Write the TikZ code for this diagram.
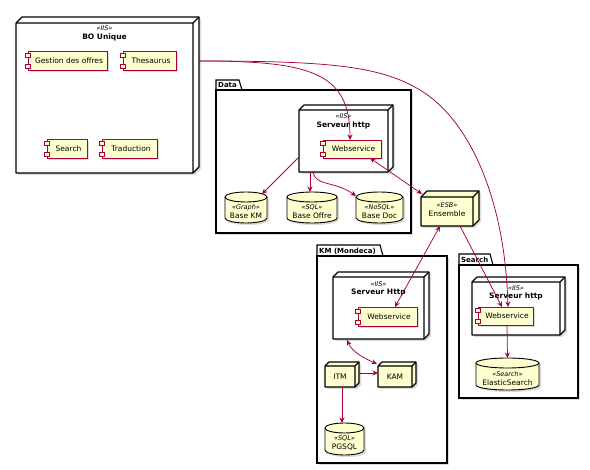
\documentclass[tikz,border=0pt]{standalone}
\usepackage{fontspec}
\setmainfont{DejaVu Sans}
\usetikzlibrary{arrows.meta,calc}
\definecolor{umlred}{HTML}{A80036}
\definecolor{umlfill}{HTML}{FEFECE}
\definecolor{umlshadow}{HTML}{9A9A9A}
\tikzset{
  lbl/.style={font=\fontsize{7.5}{9}\selectfont, inner sep=0pt, align=center},
  stereolbl/.style={font=\fontsize{6.5}{8}\selectfont\itshape, inner sep=0pt},
  titlelbl/.style={font=\fontsize{7.5}{9}\selectfont\bfseries, inner sep=0pt},
  pkglbl/.style={font=\fontsize{7}{8}\selectfont\bfseries, inner sep=0pt, anchor=west},
  framebox/.style={inner sep=0pt, outer sep=0pt, anchor=north west},
  nodeline/.style={draw=black, line width=1.1pt, line join=round},
  pkgline/.style={draw=black, line width=1.1pt},
  dbline/.style={draw=black, line width=0.9pt, fill=umlfill},
  compline/.style={draw=umlred, fill=umlfill, line width=0.8pt},
  shadowfill/.style={fill=umlshadow, opacity=0.35},
  umlarrow/.tip={Stealth[length=5.5pt,width=5pt,inset=1.8pt]},
  link/.style={draw=umlred, line width=0.75pt, -umlarrow},
  dlink/.style={draw=umlred, line width=0.75pt, umlarrow-umlarrow},
}
% 3D node: name, x1, y1, x2, y2 (front face), depth, fill
\newcommand\threedbox[7]{%
  \fill[shadowfill] ({#2+2},{#3+2}) -- ({#2+#6+2},{#3-#6+2}) -- ({#4+#6+2},{#3-#6+2}) -- ({#4+#6+2},{#5-#6+2}) -- ({#4+2},{#5+2}) -- ({#2+2},{#5+2}) -- cycle;
  \filldraw[nodeline, fill=#7] (#2,#3) -- ({#2+#6},{#3-#6}) -- ({#4+#6},{#3-#6}) -- ({#4+#6},{#5-#6}) -- (#4,#5) -- (#2,#5) -- cycle;
  \draw[nodeline] (#2,#3) -- (#4,#3) -- ({#4+#6},{#3-#6}) (#4,#3) -- (#4,#5);
  \pgfmathsetmacro\boxw{#4-#2}\pgfmathsetmacro\boxh{#5-#3}%
  \node[framebox, minimum width=\boxw pt, minimum height=\boxh pt] (#1) at (#2,#3) {};
}
% component: name, x1, y1, x2, y2, text
\newcommand\umlcomp[6]{%
  \fill[shadowfill] ({#2+2},{#3+2}) rectangle ({#4+2},{#5+2});
  \pgfmathsetmacro\boxw{#4-#2}\pgfmathsetmacro\boxh{#5-#3}%
  \node[framebox, compline, minimum width=\boxw pt, minimum height=\boxh pt] (#1) at (#2,#3) {};
  \filldraw[compline] ($(#1.west)+(-2.5,-7.5)$) rectangle ++(5,4);
  \filldraw[compline] ($(#1.west)+(-2.5,3.5)$) rectangle ++(5,4);
  \node[lbl] (#1-t) at ($(#1.center)+(1.5,0)$) {#6};
}
% database: name, x1, y1, x2, y2, stereotype, title
\newcommand\umldb[7]{%
  \pgfmathsetmacro\radx{(#4-#2)/2}%
  \fill[shadowfill] ({#2+2},{#3+7}) -- ({#2+2},{#5-3}) arc[start angle=180,end angle=360,x radius=\radx pt,y radius=5pt] -- ({#4+2},{#3+7}) arc[start angle=0,end angle=180,x radius=\radx pt,y radius=5pt] -- cycle;
  \filldraw[dbline] (#2,{#3+5}) -- (#2,{#5-5}) arc[start angle=180,end angle=360,x radius=\radx pt,y radius=5pt] -- (#4,{#3+5}) arc[start angle=0,end angle=180,x radius=\radx pt,y radius=5pt] -- cycle;
  \draw[dbline, fill=none] (#2,{#3+5}) arc[start angle=180,end angle=360,x radius=\radx pt,y radius=5pt];
  \pgfmathsetmacro\boxw{#4-#2}\pgfmathsetmacro\boxh{#5-#3}%
  \node[framebox, minimum width=\boxw pt, minimum height=\boxh pt] (#1) at (#2,#3) {};
  \node[lbl] (#1-t) at ($(#1.center)+(0,4.5)$) {{\fontsize{6.5}{8}\selectfont\itshape «#6»}\\#7};
}
% package: name, x1, ytab, xtab, ybox, x2, y2, label
\newcommand\umlpkg[8]{%
  \fill[shadowfill] ({#2+2},{#5+2}) rectangle ({#6+2},{#7+2});
  \filldraw[pkgline, fill=white] (#2,#5) -- (#2,#3) -- ({#4-3},#3) -- (#4,#5) -- cycle;
  \filldraw[pkgline, fill=white] (#2,#5) rectangle (#6,#7);
  \pgfmathsetmacro\boxw{#6-#2}\pgfmathsetmacro\boxh{#7-#5}%
  \node[framebox, minimum width=\boxw pt, minimum height=\boxh pt] (#1) at (#2,#5) {};
  \node[pkglbl] (#1-t) at ({#2+2},{(#3+#5)/2+0.5}) {#8};
}
\begin{document}
\begin{tikzpicture}[x=1pt, y=-1pt]
\useasboundingbox[fill=white] (0,0) rectangle (590,470);

% ---- BO Unique
\threedbox{bo}{16}{23}{193}{173}{6}{white}
\node[stereolbl] (bo-s) at ($(bo.north)+(0,5.5)$) {«IIS»};
\node[titlelbl] (bo-t) at ($(bo.north)+(0,14)$) {BO Unique};
\umlcomp{gest}{28}{51}{107}{70}{Gestion des offres}
\umlcomp{thes}{123}{51}{176}{70}{Thesaurus}
\umlcomp{bosearch}{47}{139}{87}{158}{Search}
\umlcomp{trad}{102}{139}{157}{158}{Traduction}

% ---- Data
\umlpkg{data}{216}{80}{242}{90}{411}{233}{Data}
\threedbox{srv1}{299}{110}{388}{172}{5}{white}
\node[stereolbl] (srv1-s) at ($(srv1.north)+(0,6.5)$) {«IIS»};
\node[titlelbl] (srv1-t) at ($(srv1.north)+(0,15)$) {Serveur http};
\umlcomp{ws1}{323}{140}{381}{158}{Webservice}
\umldb{bkm}{225}{192}{267}{223}{Graph}{Base KM}
\umldb{boff}{287}{192}{337}{223}{SQL}{Base Offre}
\umldb{bdoc}{356}{192}{403}{223}{NoSQL}{Base Doc}

% ---- Ensemble
\threedbox{ens}{421}{197}{473}{226}{6}{umlfill}
\node[lbl] (ens-t) at ($(ens.center)+(0,-1.5)$) {{\fontsize{6.5}{8}\selectfont\itshape «ESB»}\\Ensemble};

% ---- KM (Mondeca)
\umlpkg{km}{317}{245}{383}{256}{447}{463}{KM (Mondeca)}
\threedbox{srv2}{333}{277}{424}{339}{5}{white}
\node[stereolbl] (srv2-s) at ($(srv2.north)+(0,7)$) {«IIS»};
\node[titlelbl] (srv2-t) at ($(srv2.north)+(0,15.5)$) {Serveur Http};
\umlcomp{ws2}{358}{307}{417}{326}{Webservice}
\threedbox{itm}{325}{366}{355}{387}{4}{umlfill}
\node[lbl] (itm-t) at (itm.center) {ITM};
\threedbox{kam}{378}{366}{412}{387}{4}{umlfill}
\node[lbl] (kam-t) at (kam.center) {KAM};
\umldb{pg}{325}{423}{364}{455}{SQL}{PGSQL}

% ---- Search
\umlpkg{srchpkg}{459}{254}{493}{265}{578}{398}{Search}
\threedbox{srv3}{472}{282}{560}{335}{5}{white}
\node[stereolbl] (srv3-s) at ($(srv3.north)+(0,6)$) {«IIS»};
\node[titlelbl] (srv3-t) at ($(srv3.north)+(0,14.5)$) {Serveur http};
\umlcomp{ws3}{478}{307}{533}{325}{Webservice}
\umldb{es}{476}{358}{539}{390}{Search}{ElasticSearch}

% ---- connectors
\coordinate (bo-out) at ($(bo.north east)+(6,38)$);
\draw[link] (bo-out) .. controls (310,61) and (350,72) .. ($(ws1.north)+(-2,0)$);
\draw[link] (bo-out) .. controls (330,61) and (380,66) .. (420,90) .. controls (470,120) and (505,200) .. ($(ws3.north)+(2.5,0)$);
\draw[link] ($(srv1.south west)+(0,-15)$) -- ($(bkm.north)+(16,2)$);
\draw[link] ($(srv1.south west)+(11,0)$) -- ($(boff.north)+(-2,0)$);
\draw[link] ($(srv1.south west)+(14,0)$) .. controls (315,186) and (335,181) .. ($(bdoc.north west)+(0,4)$);
\draw[dlink] ($(ws1.south)+(18,0)$) -- ($(ens.north west)+(1,-3)$);
\draw[dlink] ($(ens.south west)+(19,0)$) -- ($(ws2.north)+(7.5,0)$);
\draw[link] ($(ens.south west)+(39,0)$) -- ($(ws3.north)+(-3.5,0)$);
\draw[dlink] ($(srv2.south west)+(14,1)$) .. controls (352,352) and (364,358) .. ($(kam.north west)+(-1,-2)$);
\draw[link] ($(itm.east)+(4,-3.5)$) -- ($(kam.west)+(0,-3.5)$);
\draw[link] ($(itm.south)+(2,0)$) -- ($(pg.north)+(-2.5,0)$);
\draw[link] ($(ws3.south)+(1.5,0)$) -- ($(es.north)+(0,0)$);
\end{tikzpicture}
\end{document}
